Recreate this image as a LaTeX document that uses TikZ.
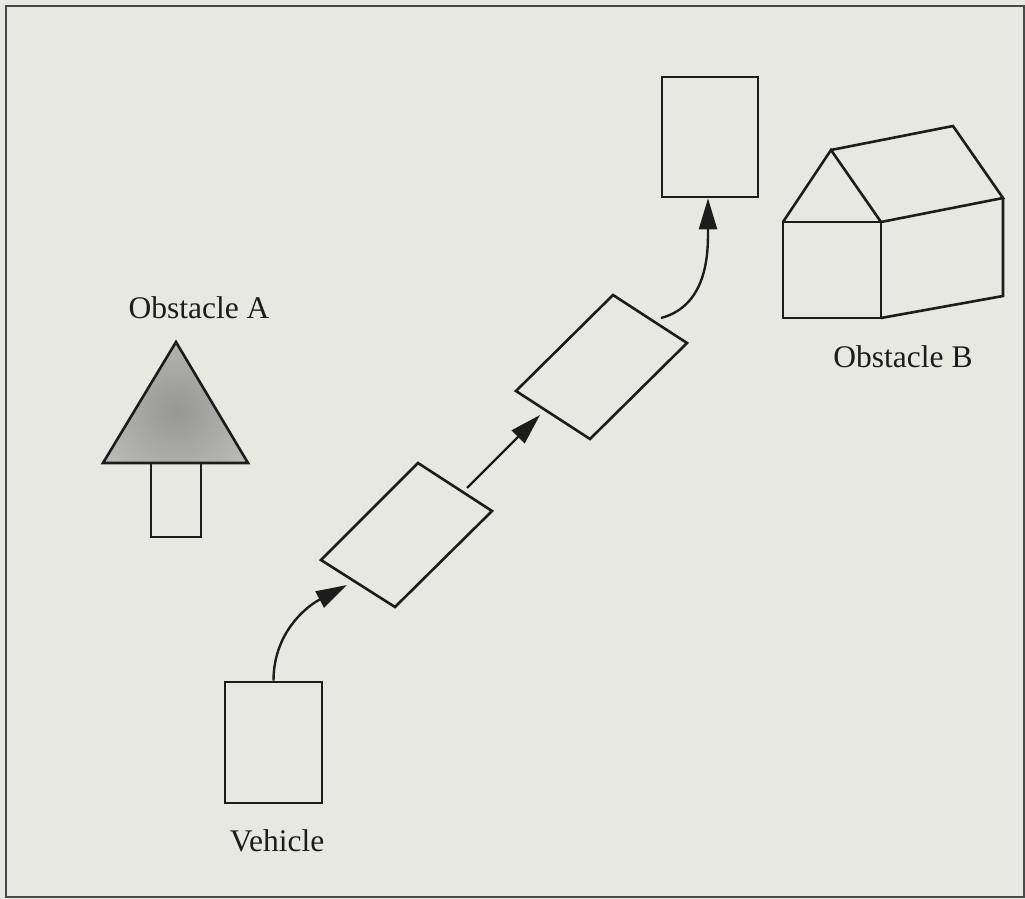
\documentclass[tikz,border=0pt]{standalone}
\usepackage{fontspec}
\setmainfont{Liberation Serif}
\usetikzlibrary{arrows.meta}
\definecolor{bg}{RGB}{232,232,226}
\definecolor{ink}{RGB}{28,28,28}
\definecolor{stipout}{RGB}{196,196,194}
\definecolor{stipin}{RGB}{150,150,148}
\tikzset{
  shapeline/.style={draw=ink, line width=2.6pt, line join=miter},
  box/.style={shapeline, rectangle, inner sep=0pt},
  lbl/.style={font=\fontsize{31.5}{36}\selectfont, text=ink, anchor=base, inner sep=0pt},
  arr/.style={draw=ink, line width=2.4pt, -{Triangle[length=31pt,width=18pt]}},
  frame/.style={draw=ink!80, line width=2pt}
}
\begin{document}
\begin{tikzpicture}[x=1pt,y=-1pt]
\useasboundingbox (0,0) rectangle (1025,899);
\fill[bg] (0,0) rectangle (1025,899);
\draw[frame] (6,6) rectangle (1024,897);

% Obstacle A
\coordinate (ta) at (176,342);
\coordinate (tl) at (103,463);
\coordinate (tr) at (248,463);
\begin{scope}
  \clip (ta) -- (tl) -- (tr) -- cycle;
  \shade[inner color=stipin, outer color=stipout] (176,410) circle (105);
\end{scope}
\draw[shapeline] (ta) -- (tl) -- (tr) -- cycle;
\draw[shapeline] (151,463) rectangle (201,537);
\node[lbl] (labA) at (199,318) {Obstacle A};

% Obstacle B (house)
\coordinate (fbl) at (783,318);
\coordinate (fbr) at (881,318);
\coordinate (ftl) at (783,222);
\coordinate (ftr) at (881,222);
\coordinate (apex) at (831,150);
\coordinate (ridge) at (953,126);
\coordinate (btr) at (1003,198);
\coordinate (bbr) at (1003,296);
\draw[shapeline] (ftl) -- (fbl) -- (fbr) -- (ftr) -- cycle;
\draw[shapeline] (ftl) -- (apex) -- (ftr);
\draw[shapeline] (apex) -- (ridge) -- (btr) -- (ftr);
\draw[shapeline] (btr) -- (bbr) -- (fbr);
\node[lbl] (labB) at (903,367) {Obstacle B};

% Vehicle
\node[box, minimum width=97pt, minimum height=121pt] (veh) at (273.5,742.5) {};
\node[lbl] (labV) at (277,851) {Vehicle};

% Intermediate positions
\coordinate (p1t) at (418,463);
\coordinate (p1r) at (492,511);
\coordinate (p1b) at (395,607);
\coordinate (p1l) at (321,560);
\draw[shapeline] (p1t) -- (p1r) -- (p1b) -- (p1l) -- cycle;

\coordinate (p2t) at (613,295);
\coordinate (p2r) at (687,343);
\coordinate (p2b) at (590,439);
\coordinate (p2l) at (516,391);
\draw[shapeline] (p2t) -- (p2r) -- (p2b) -- (p2l) -- cycle;

% Goal position
\node[box, minimum width=96pt, minimum height=120pt] (goal) at (710,137) {};

% Connectors
\coordinate (in1) at (347,585);
\coordinate (out1) at (467,488);
\coordinate (in2) at (540,415);
\coordinate (out2) at (661,318);
\draw[arr] (veh.north) to[out=90,in=208] (in1);
\draw[arr] (out1) -- (in2);
\draw[arr] (out2) to[out=15,in=-90] ([xshift=-2pt]goal.south);
\end{tikzpicture}
\end{document}
